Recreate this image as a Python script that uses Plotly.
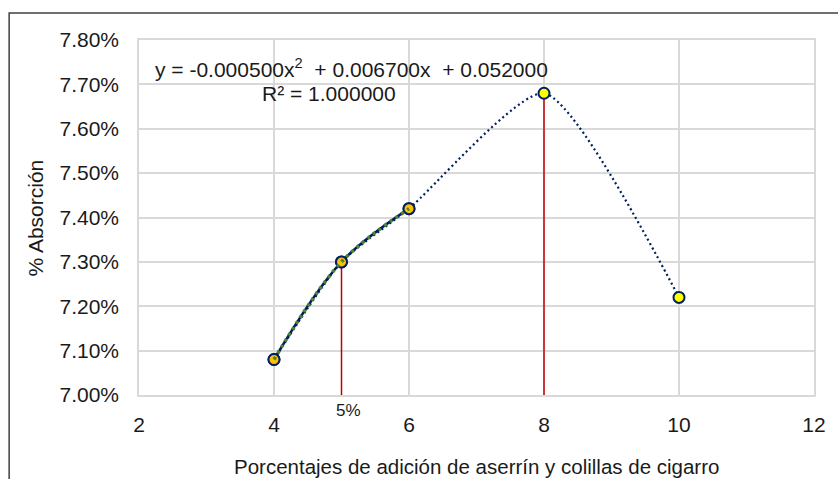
import plotly.graph_objects as go

# data
x_pts = [4, 5, 6, 8, 10]
y_pts = [0.0708, 0.0730, 0.0742, 0.0768, 0.0722]
n_fit = 3  # first points used for the fitted (solid) part and trendline
ref_x = [5, 8]
ref_y = [0.0730, 0.0768]
y_min, y_max = 0.070, 0.078
x_min, x_max = 2, 12

x_title = "Porcentajes de adición de aserrín y colillas de cigarro"
y_title = "% Absorción"
eq_text = "y = -0.000500x<sup>2</sup>  + 0.006700x  + 0.052000"
r2_text = "R² = 1.000000"
ref_label = "5%"

NAVY = "#002060"
FONT = "Liberation Sans, Arial, sans-serif"
TXT = "#1a1a1a"

x_fit, y_fit = x_pts[:n_fit], y_pts[:n_fit]

fig = go.Figure()

# red reference lines
for xv, yv in zip(ref_x, ref_y):
    fig.add_trace(go.Scatter(x=[xv, xv], y=[yv, y_min], mode="lines",
                             line=dict(color="#C00000", width=1.5),
                             showlegend=False, hoverinfo="skip"))

# full series, dotted smooth line
fig.add_trace(go.Scatter(x=x_pts, y=y_pts, mode="lines+markers",
                         line=dict(color=NAVY, width=2.2, dash="2px,3px", shape="spline", smoothing=0.6),
                         marker=dict(size=11, color="#FFFF00", line=dict(color=NAVY, width=2)),
                         showlegend=False))
# fitted part, solid smooth line
fig.add_trace(go.Scatter(x=x_fit, y=y_fit, mode="lines+markers",
                         line=dict(color=NAVY, width=2.5, shape="spline", smoothing=1.0),
                         marker=dict(size=11, color="#FFC000", line=dict(color=NAVY, width=2)),
                         showlegend=False))
# trendline (green dotted)
fig.add_trace(go.Scatter(x=x_fit, y=y_fit, mode="lines",
                         line=dict(color="#548235", width=3.5, dash="3px,4px", shape="spline", smoothing=1.0),
                         showlegend=False, hoverinfo="skip"))

fig.update_layout(
    width=838, height=479,
    margin=dict(l=139, r=18, t=40, b=84),
    paper_bgcolor="white", plot_bgcolor="white",
    font=dict(family=FONT, size=21, color=TXT),
    xaxis=dict(range=[x_min, x_max], dtick=2, tick0=2, showgrid=True, gridcolor="#D9D9D9", gridwidth=1.5,
               zeroline=False, showline=True, linecolor="#D9D9D9", linewidth=1.5, mirror=True,
               ticks="", ticklabelstandoff=10, tickfont=dict(size=21)),
    yaxis=dict(range=[y_min, y_max], dtick=0.001, tick0=0.07, tickformat=".2%", showgrid=True,
               gridcolor="#D9D9D9", gridwidth=1.5, zeroline=False, showline=True, linecolor="#D9D9D9",
               linewidth=1.5, mirror=True, ticks="", ticklabelstandoff=14, tickfont=dict(size=21)),
    annotations=[
        dict(text=eq_text, xref="paper", yref="paper", x=0.0206, y=0.921, xanchor="left", yanchor="middle",
             showarrow=False, font=dict(size=21)),
        dict(text=r2_text, xref="paper", yref="paper", x=0.179, y=0.848, xanchor="left", yanchor="middle",
             showarrow=False, font=dict(size=21)),
        dict(text=ref_label, xref="x", yref="paper", x=ref_x[0] + 0.1, y=-0.045, xanchor="center",
             yanchor="middle", showarrow=False, font=dict(size=17)),
        dict(text=x_title, xref="paper", yref="paper", x=0.5, y=-0.2028, xanchor="center", yanchor="middle",
             showarrow=False, font=dict(size=20.5)),
        dict(text=y_title, xref="paper", yref="paper", x=-0.1527, y=0.5, xanchor="center", yanchor="middle",
             textangle=-90, showarrow=False, font=dict(size=21)),
    ],
    shapes=[
        dict(type="rect", xref="paper", yref="paper", x0=-0.1924, x1=1.04, y0=-0.26, y1=1.076,
             line=dict(color="#404040", width=1.5), fillcolor="rgba(0,0,0,0)", layer="below"),
    ],
)

fig.write_html("out.html")
